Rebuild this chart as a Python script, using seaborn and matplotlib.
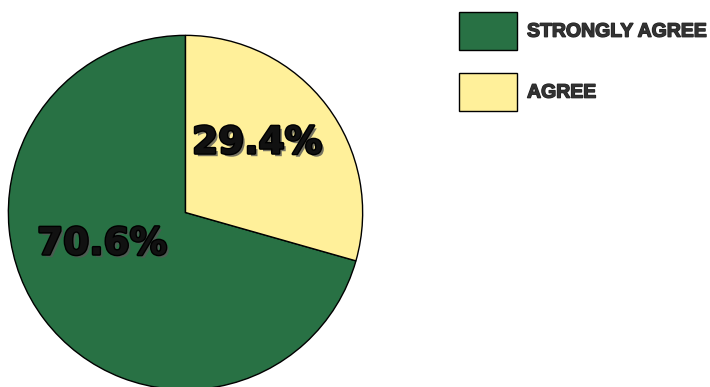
import matplotlib.pyplot as plt
import matplotlib.patheffects as pe
from matplotlib.patches import Patch
import seaborn as sns

categories = ['Strongly Agree', 'Agree']
shares = [70.6, 29.4]
colors = ['#287144', '#FFF09A']

sns.set_theme(style='white')
plt.rcParams['font.family'] = ['DejaVu Sans']

fig = plt.figure(figsize=(7.1, 3.87), dpi=100)
ax = fig.add_axes([8 / 710, -3 / 387, 355 / 710, 355 / 387])

palette = sns.color_palette(colors)
wedges, texts, autotexts = ax.pie(
    shares, colors=palette, startangle=90, counterclock=True,
    autopct='%1.1f%%', pctdistance=0.6,
    wedgeprops={'edgecolor': 'black', 'linewidth': 1},
    textprops={'fontsize': 27, 'fontweight': 'heavy', 'color': '#111111'})
ax.set_xlim(-1.002, 1.002)
ax.set_ylim(-1.002, 1.002)
ax.set_aspect('equal')

effects = [pe.withSimplePatchShadow(offset=(2, -2), shadow_rgbFace='#555555', alpha=0.8),
           pe.Stroke(linewidth=2, foreground='black'), pe.Normal()]
for t in autotexts:
    t.set_path_effects(effects)
autotexts[0].set_position((-0.47, -0.18))
autotexts[1].set_position((0.405, 0.39))

handles = [Patch(facecolor=c, edgecolor='black', linewidth=1) for c in palette]
leg = fig.legend(handles, [c.upper() for c in categories], loc='upper left',
                 bbox_to_anchor=(459 / 710, 1 - 12 / 387), frameon=False,
                 borderpad=0, borderaxespad=0, handlelength=3.0, handleheight=2.6,
                 labelspacing=1.2, handletextpad=0.5,
                 prop={'size': 14, 'weight': 'bold', 'family': ['Liberation Sans', 'DejaVu Sans']})
for t in leg.get_texts():
    t.set_color('#333333')
    t.set_path_effects([pe.Stroke(linewidth=1, foreground='#222222'), pe.Normal()])

fig.savefig('out.png', dpi=100)
